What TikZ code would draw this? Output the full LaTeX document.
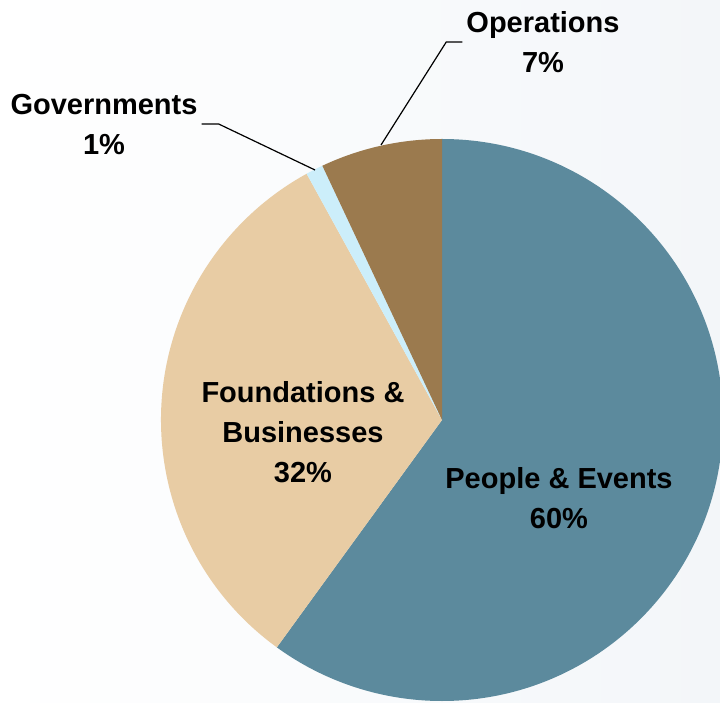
\documentclass[tikz,border=0pt]{standalone}
\usepackage{fontspec}
\setmainfont{Liberation Sans}
\usepackage{tikz}
\definecolor{peoplecol}{RGB}{92,138,157}
\definecolor{foundcol}{RGB}{232,204,164}
\definecolor{govcol}{RGB}{204,238,250}
\definecolor{opscol}{RGB}{155,122,78}
\definecolor{bgright}{RGB}{243,246,249}

\begin{document}
\begin{tikzpicture}[x=1pt, y=1pt,
  slicelabel/.style={align=center, inner sep=4pt, font=\fontsize{29}{40}\selectfont\bfseries},
  leader/.style={line width=1.2pt}]
  \useasboundingbox (0,0) rectangle (720,702);
  \shade[left color=white, right color=bgright] (0,0) rectangle (720,702);
  \clip (0,0) rectangle (720,702);
  \coordinate (centre) at (442,282);
  % slices, clockwise from the top
  \fill[peoplecol] (centre) -- ++(90:281) arc[start angle=90, end angle=-126, radius=281] -- cycle;
  \fill[foundcol] (centre) -- ++(-126:281) arc[start angle=-126, end angle=-241.2, radius=281] -- cycle;
  \fill[govcol] (centre) -- ++(118.8:281) arc[start angle=118.8, end angle=115.2, radius=281] -- cycle;
  \fill[opscol] (centre) -- ++(115.2:281) arc[start angle=115.2, end angle=90, radius=281] -- cycle;
  % labels
  \node[slicelabel] (people) at (559,204) {People \& Events\\60\%};
  \node[slicelabel] (found) at (303,270) {Foundations \&\\Businesses\\32\%};
  \node[slicelabel] (gov) at (104,578) {Governments\\1\%};
  \node[slicelabel] (ops) at (543,660) {Operations\\7\%};
  \coordinate (govtip) at (315,532);
  \coordinate (opstip) at (381,557);
  \draw[leader] (gov.east) -- ++(17,0) -- (govtip);
  \draw[leader] (ops.west) -- ++(-16,0) -- (opstip);
\end{tikzpicture}
\end{document}
